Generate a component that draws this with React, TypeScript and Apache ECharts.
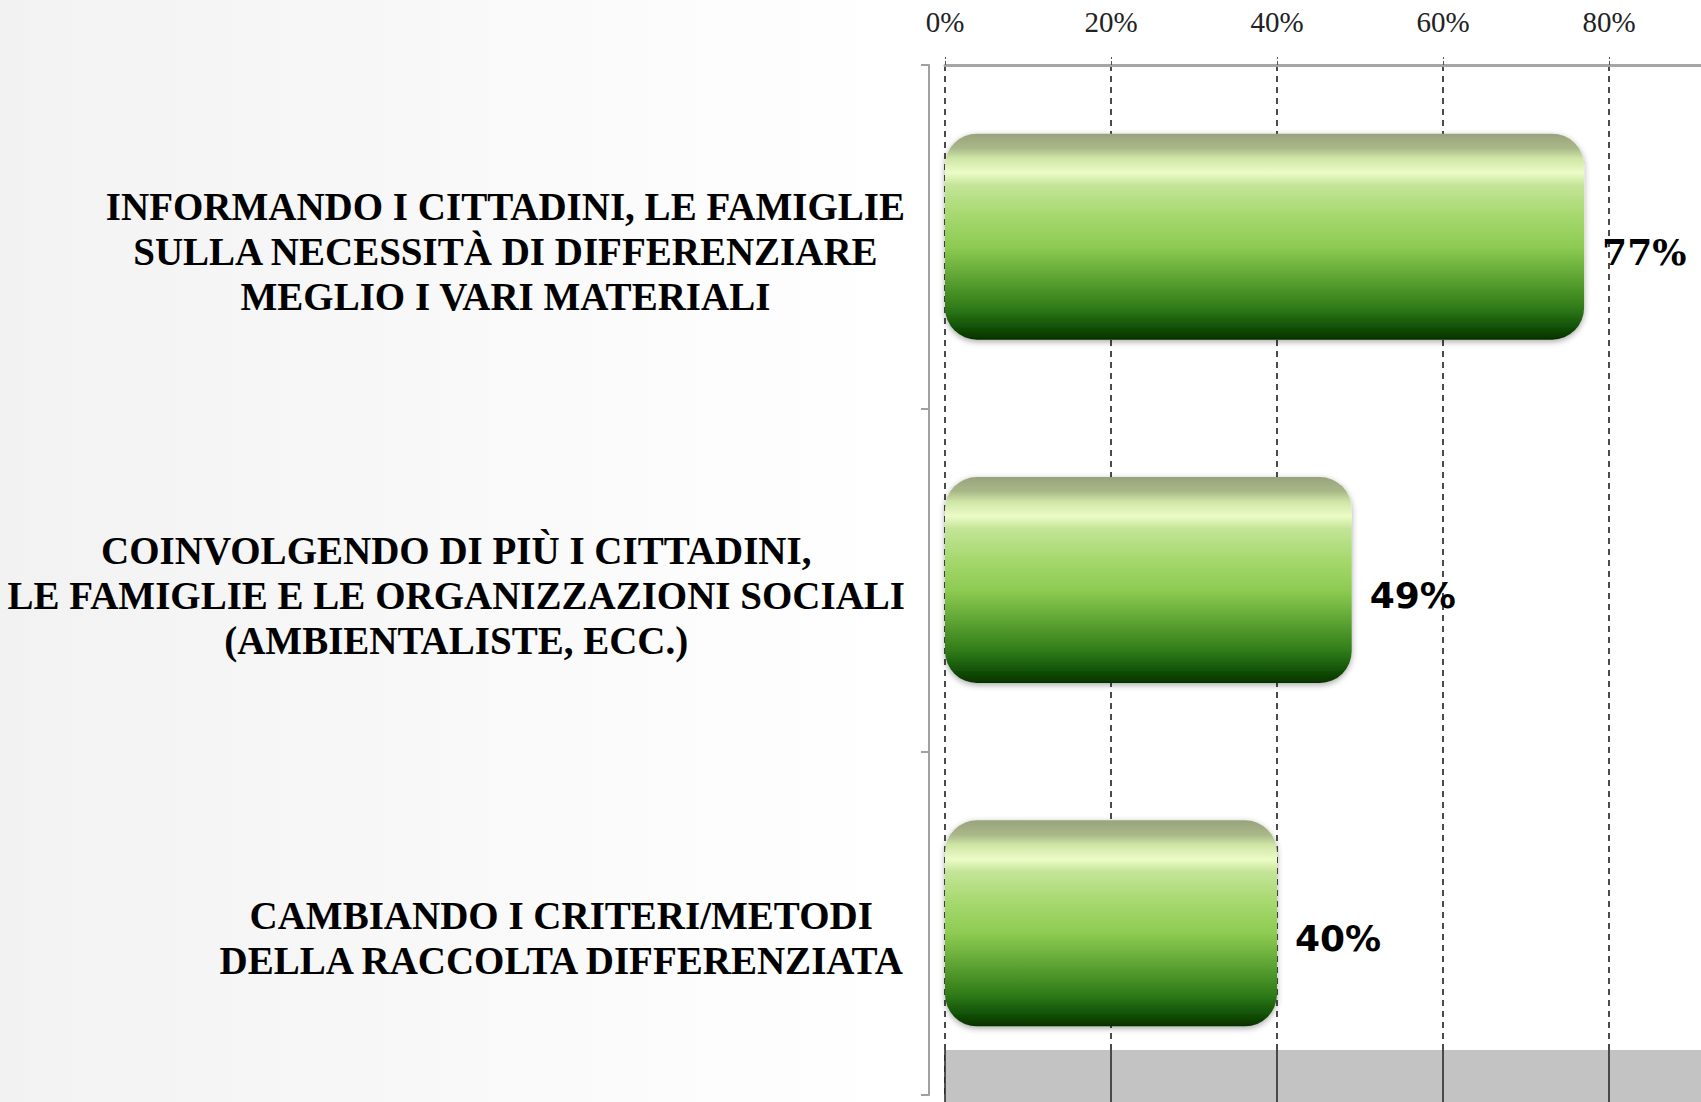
import React, { useEffect, useRef } from "react";
import * as echarts from "echarts";

const categories: string[] = [
  "INFORMANDO I CITTADINI, LE FAMIGLIE\nSULLA NECESSITÀ DI DIFFERENZIARE\nMEGLIO I VARI MATERIALI",
  "COINVOLGENDO DI PIÙ I CITTADINI,\nLE FAMIGLIE E LE ORGANIZZAZIONI SOCIALI\n(AMBIENTALISTE, ECC.)",
  "CAMBIANDO I CRITERI/METODI\nDELLA RACCOLTA DIFFERENZIATA",
];
const values: number[] = [77, 49, 40];
const axisTicks: number[] = [0, 20, 40, 60, 80, 100];

const barGradient = new echarts.graphic.LinearGradient(0, 0, 0, 1, [
  { offset: 0, color: "#98a37c" },
  { offset: 0.07, color: "#a9b888" },
  { offset: 0.12, color: "#cfe6a6" },
  { offset: 0.19, color: "#ecfcc6" },
  { offset: 0.25, color: "#c4e598" },
  { offset: 0.4, color: "#a6d86e" },
  { offset: 0.55, color: "#8dcb52" },
  { offset: 0.7, color: "#5ea433" },
  { offset: 0.85, color: "#2e7a18" },
  { offset: 0.95, color: "#0f4c05" },
  { offset: 1, color: "#053000" },
]);

export default function App() {
  const ref = useRef<HTMLDivElement>(null);
  useEffect(() => {
    if (!ref.current) return;
    const chart = echarts.init(ref.current, null, { renderer: "svg" });
    const labelFont = "'Liberation Serif', serif";
    chart.setOption({
      animation: false,
      backgroundColor: new echarts.graphic.LinearGradient(0, 0, 1, 0, [
        { offset: 0, color: "#f2f2f2" },
        { offset: 0.5, color: "#ffffff" },
        { offset: 1, color: "#ffffff" },
      ]),
      grid: [
        { left: 945, right: 25, top: 65, height: 1030, containLabel: false },
        {
          left: 945, right: 25, top: 1050, bottom: 0, show: true,
          backgroundColor: "#c3c3c3", borderWidth: 0, z: 1,
        },
      ],
      xAxis: [
        {
          type: "value", gridIndex: 0, position: "top",
          min: axisTicks[0], max: axisTicks[axisTicks.length - 1], interval: 20,
          axisLine: { show: true, lineStyle: { color: "#a6a6a6", width: 3 } },
          axisTick: { show: true, length: 8, lineStyle: { color: "#555", type: "dashed" } },
          axisLabel: {
            formatter: "{value}%", fontFamily: "'Liberation Serif', serif",
            fontSize: 29, color: "#222", margin: 29, showMaxLabel: false,
          },
          splitLine: { show: true, lineStyle: { color: "#111", type: [6, 5], width: 1.5 } },
        },
        {
          type: "value", gridIndex: 1,
          min: axisTicks[0], max: axisTicks[axisTicks.length - 1], interval: 20,
          axisLine: { show: false }, axisTick: { show: false }, axisLabel: { show: false },
          splitLine: { show: true, lineStyle: { color: "#222", width: 1.5 } },
          z: 2,
        },
      ],
      yAxis: [
        {
          type: "category", gridIndex: 0, inverse: true, data: categories, offset: 16,
          axisLine: { show: true, onZero: false, lineStyle: { color: "#a0a0a0", width: 2 } },
          axisTick: { show: true, length: 8, lineStyle: { color: "#a0a0a0", width: 2 } },
          axisLabel: {
            align: "right", margin: 24, padding: [30, 0, 0, 0],
            formatter: (v: string) => v.split("\n").map((l) => `{c|${l}}`).join("\n"),
            rich: {
              c: {
                align: "center", fontFamily: labelFont, fontWeight: "bold",
                fontSize: 39, lineHeight: 45, color: "#000",
              },
            },
          },
        },
        { type: "category", gridIndex: 1, show: false, data: ["floor"] },
      ],
      series: [
        {
          type: "bar", xAxisIndex: 0, yAxisIndex: 0, barWidth: "60%",
          data: values.map((v, i) => ({
            value: v,
            label: {
              fontFamily: i === 0 ? "'DejaVu Serif', serif" : "'DejaVu Sans', sans-serif",
            },
          })),
          itemStyle: {
            color: barGradient, borderRadius: 32,
            shadowBlur: 6, shadowColor: "rgba(0,0,0,0.35)", shadowOffsetY: 2,
          },
          label: {
            show: true, position: "right", distance: 18, formatter: "{c}%",
            fontSize: 36, fontWeight: "bold", color: "#000", offset: [0, 15],
          },
          z: 3,
        },
      ],
    });
    return () => chart.dispose();
  }, []);
  return (
    <div style={{ position: "fixed", left: 0, top: 0, width: 1701, height: 1102, overflow: "hidden" }}>
      <div ref={ref} style={{ width: 1800, height: 1102 }} />
    </div>
  );
}
